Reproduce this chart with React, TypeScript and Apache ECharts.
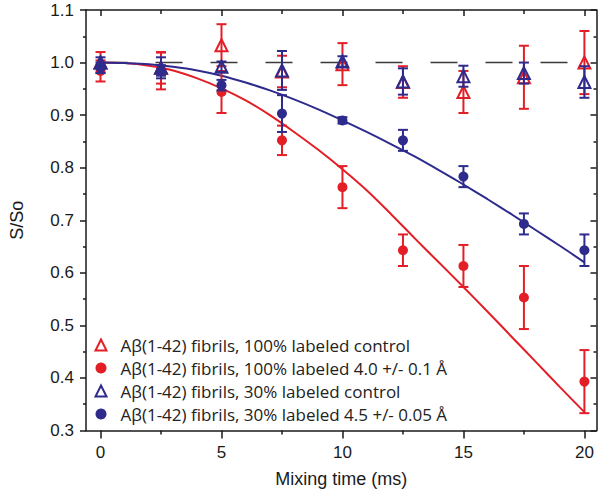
import React, { useEffect, useRef } from 'react';
import * as echarts from 'echarts';

// ---- data ----
const times = [0, 2.5, 5, 7.5, 10, 12.5, 15, 17.5, 20];

const red100Control = [1.0, 0.99, 1.033, 0.983, 0.997, 0.963, 0.944, 0.972, 1.0];
const red100ControlErr = [0.02, 0.03, 0.04, 0.03, 0.04, 0.03, 0.04, 0.06, 0.06];

const red100Labeled = [0.984, 0.984, 0.944, 0.852, 0.763, 0.643, 0.613, 0.553, 0.393];
const red100LabeledErr = [0.02, 0.035, 0.04, 0.028, 0.04, 0.03, 0.04, 0.06, 0.06];

const blue30Control = [1.0, 0.99, 0.992, 0.985, 1.002, 0.964, 0.974, 0.98, 0.963];
const blue30ControlErr = [0.01, 0.02, 0.01, 0.037, 0.01, 0.025, 0.02, 0.02, 0.03];

const blue30Labeled = [0.99, 0.985, 0.957, 0.903, 0.89, 0.852, 0.783, 0.693, 0.643];
const blue30LabeledErr = [0.01, 0.01, 0.01, 0.035, 0.006, 0.02, 0.02, 0.02, 0.03];

const fitTimes = [0, 1, 2, 3, 4, 5, 6, 7, 8, 9, 10, 11, 12, 13, 14, 15, 16, 17, 18, 19, 20];
const redFit = [1.0, 0.999, 0.994, 0.985, 0.97, 0.951, 0.928, 0.9, 0.868, 0.834, 0.797, 0.757, 0.712, 0.665, 0.619, 0.573, 0.526, 0.478, 0.43, 0.382, 0.335];
const blueFit = [1.0, 0.999, 0.997, 0.992, 0.985, 0.975, 0.962, 0.947, 0.93, 0.911, 0.89, 0.868, 0.845, 0.821, 0.795, 0.768, 0.74, 0.711, 0.681, 0.651, 0.62];

const baselineX = [0, 20];
const baselineY = 1.0;

const xMajorTicks = [0, 5, 10, 15, 20];
const xMinorTicks = [2.5, 7.5, 12.5, 17.5];

const seriesNames = [
  'Aβ(1-42) fibrils, 100% labeled control',
  'Aβ(1-42) fibrils, 100% labeled 4.0 +/- 0.1 Å',
  'Aβ(1-42) fibrils, 30% labeled control',
  'Aβ(1-42) fibrils, 30% labeled 4.5 +/- 0.05 Å',
];

const RED = '#e41e26';
const BLUE = '#2e2b8c';
const AXIS = '#1a1a1a';

function errData(vals: number[], errs: number[]) {
  return times.map((t, i) => [t, vals[i] - errs[i], vals[i] + errs[i]]);
}

function pts(xs: number[], ys: number[]) {
  return xs.map((x, i) => [x, ys[i]]);
}

function errSeries(vals: number[], errs: number[], color: string, z: number) {
  return {
    type: 'custom',
    xAxisIndex: 0,
    yAxisIndex: 0,
    z,
    silent: true,
    encode: { x: 0, y: [1, 2] },
    data: errData(vals, errs),
    renderItem: (params: any, api: any) => {
      const x = api.value(0);
      const lo = api.coord([x, api.value(1)]);
      const hi = api.coord([x, api.value(2)]);
      const hw = 5;
      const style = { stroke: color, lineWidth: 2 };
      return {
        type: 'group',
        children: [
          { type: 'line', shape: { x1: lo[0], y1: lo[1], x2: hi[0], y2: hi[1] }, style },
          { type: 'line', shape: { x1: lo[0] - hw, y1: lo[1], x2: lo[0] + hw, y2: lo[1] }, style },
          { type: 'line', shape: { x1: hi[0] - hw, y1: hi[1], x2: hi[0] + hw, y2: hi[1] }, style },
        ],
      };
    },
  };
}

export default function App() {
  const ref = useRef<HTMLDivElement>(null);

  useEffect(() => {
    if (!ref.current) return;
    const chart = echarts.init(ref.current, undefined, { renderer: 'svg' });

    const commonX = {
      type: 'value',
      min: -0.6,
      max: 20.5,
      splitLine: { show: false },
    };

    const option: any = {
      animation: false,
      backgroundColor: '#ffffff',
      grid: { left: 77, right: 3.5, top: 10, bottom: 65.5, containLabel: false },
      legend: {
        orient: 'vertical',
        left: 89.5,
        top: 331.5,
        itemWidth: 11,
        itemHeight: 11,
        itemGap: 6,
        selectedMode: false,
        textStyle: { fontFamily: 'Open Sans', fontSize: 17, color: '#222', lineHeight: 17, padding: [0, 0, 0, 9] },
        data: [
          { name: seriesNames[0], icon: 'triangle', itemStyle: { color: 'rgba(0,0,0,0)', borderColor: RED, borderWidth: 2 } },
          { name: seriesNames[1], icon: 'circle', itemStyle: { color: RED, borderWidth: 0, opacity: 1 } },
          { name: seriesNames[2], icon: 'triangle', itemStyle: { color: 'rgba(0,0,0,0)', borderColor: BLUE, borderWidth: 2 } },
          { name: seriesNames[3], icon: 'circle', itemStyle: { color: BLUE, borderWidth: 0, opacity: 1 } },
        ],
      },
      xAxis: [
        {
          ...commonX,
          position: 'bottom',
          name: 'Mixing time (ms)',
          nameLocation: 'middle',
          nameGap: 39,
          nameTextStyle: { fontFamily: 'Liberation Sans', fontSize: 18, color: AXIS },
          axisLine: { show: true, onZero: false, lineStyle: { color: AXIS, width: 1.5 } },
          axisTick: { show: true, inside: false, length: 8, customValues: xMajorTicks, lineStyle: { color: AXIS, width: 1.5 } },
          axisLabel: {
            show: true,
            customValues: xMajorTicks,
            margin: 13,
            fontFamily: 'Liberation Sans',
            fontSize: 17,
            color: AXIS,
          },
        },
        {
          ...commonX,
          position: 'bottom',
          axisLine: { show: false, onZero: false },
          axisTick: { show: true, inside: false, length: 4, customValues: xMinorTicks, lineStyle: { color: AXIS, width: 1.5 } },
          axisLabel: { show: false },
        },
        {
          ...commonX,
          position: 'top',
          axisLine: { show: true, onZero: false, lineStyle: { color: AXIS, width: 1.5 } },
          axisTick: { show: true, inside: true, length: 6, customValues: xMajorTicks, lineStyle: { color: AXIS, width: 1.5 } },
          axisLabel: { show: false },
        },
        {
          ...commonX,
          position: 'top',
          axisLine: { show: false, onZero: false },
          axisTick: { show: true, inside: true, length: 4, customValues: xMinorTicks, lineStyle: { color: AXIS, width: 1.5 } },
          axisLabel: { show: false },
        },
      ],
      yAxis: [
        {
          type: 'value',
          position: 'left',
          min: 0.3,
          max: 1.1,
          interval: 0.1,
          name: 'S/So',
          nameLocation: 'middle',
          nameGap: 60,
          nameTextStyle: { fontFamily: 'Liberation Sans', fontSize: 18, color: AXIS },
          splitLine: { show: false },
          axisLine: { show: true, onZero: false, lineStyle: { color: AXIS, width: 1.5 } },
          axisTick: { show: true, inside: false, length: 6, lineStyle: { color: AXIS, width: 1.5 } },
          minorTick: { show: true, splitNumber: 2, length: 3, lineStyle: { color: AXIS, width: 1.5 } },
          axisLabel: {
            margin: 12,
            fontFamily: 'Liberation Sans',
            fontSize: 17,
            color: AXIS,
            formatter: (v: number) => v.toFixed(1),
          },
        },
        {
          type: 'value',
          position: 'right',
          min: 0.3,
          max: 1.1,
          interval: 0.1,
          splitLine: { show: false },
          axisLine: { show: true, onZero: false, lineStyle: { color: AXIS, width: 1.5 } },
          axisTick: { show: true, inside: true, length: 6, lineStyle: { color: AXIS, width: 1.5 } },
          minorTick: { show: true, splitNumber: 2, length: 3, lineStyle: { color: AXIS, width: 1.5 } },
          axisLabel: { show: false },
        },
      ],
      series: [
        {
          type: 'line',
          name: 'baseline',
          xAxisIndex: 0,
          yAxisIndex: 0,
          data: baselineX.map((x) => [x, baselineY]),
          showSymbol: false,
          silent: true,
          z: 1,
          lineStyle: { color: '#3a3a3a', width: 1.5, type: [27, 28] },
        },
        {
          type: 'line',
          name: 'redFit',
          xAxisIndex: 0,
          yAxisIndex: 0,
          data: pts(fitTimes, redFit),
          showSymbol: false,
          smooth: 0.3,
          silent: true,
          z: 2,
          lineStyle: { color: RED, width: 2 },
        },
        {
          type: 'line',
          name: 'blueFit',
          xAxisIndex: 0,
          yAxisIndex: 0,
          data: pts(fitTimes, blueFit),
          showSymbol: false,
          smooth: 0.3,
          silent: true,
          z: 2,
          lineStyle: { color: BLUE, width: 2 },
        },
        errSeries(red100Control, red100ControlErr, RED, 3),
        {
          type: 'scatter',
          name: seriesNames[0],
          xAxisIndex: 0,
          yAxisIndex: 0,
          z: 3,
          symbol: 'triangle',
          symbolSize: 12,
          itemStyle: { color: 'rgba(0,0,0,0)', borderColor: RED, borderWidth: 2, opacity: 1 },
          data: pts(times, red100Control),
        },
        errSeries(red100Labeled, red100LabeledErr, RED, 4),
        {
          type: 'scatter',
          name: seriesNames[1],
          xAxisIndex: 0,
          yAxisIndex: 0,
          z: 4,
          symbol: 'circle',
          symbolSize: 10,
          itemStyle: { color: RED, opacity: 1 },
          data: pts(times, red100Labeled),
        },
        errSeries(blue30Control, blue30ControlErr, BLUE, 5),
        {
          type: 'scatter',
          name: seriesNames[2],
          xAxisIndex: 0,
          yAxisIndex: 0,
          z: 5,
          symbol: 'triangle',
          symbolSize: 12,
          itemStyle: { color: 'rgba(0,0,0,0)', borderColor: BLUE, borderWidth: 2, opacity: 1 },
          data: pts(times, blue30Control),
        },
        errSeries(blue30Labeled, blue30LabeledErr, BLUE, 6),
        {
          type: 'scatter',
          name: seriesNames[3],
          xAxisIndex: 0,
          yAxisIndex: 0,
          z: 6,
          symbol: 'circle',
          symbolSize: 10,
          itemStyle: { color: BLUE, opacity: 1 },
          data: pts(times, blue30Labeled),
        },
      ],
    };

    chart.setOption(option);
    return () => {
      chart.dispose();
    };
  }, []);

  return (
    <div
      ref={ref}
      style={{ position: 'fixed', left: 0, top: 0, width: 600, height: 496, background: '#fff' }}
    />
  );
}
